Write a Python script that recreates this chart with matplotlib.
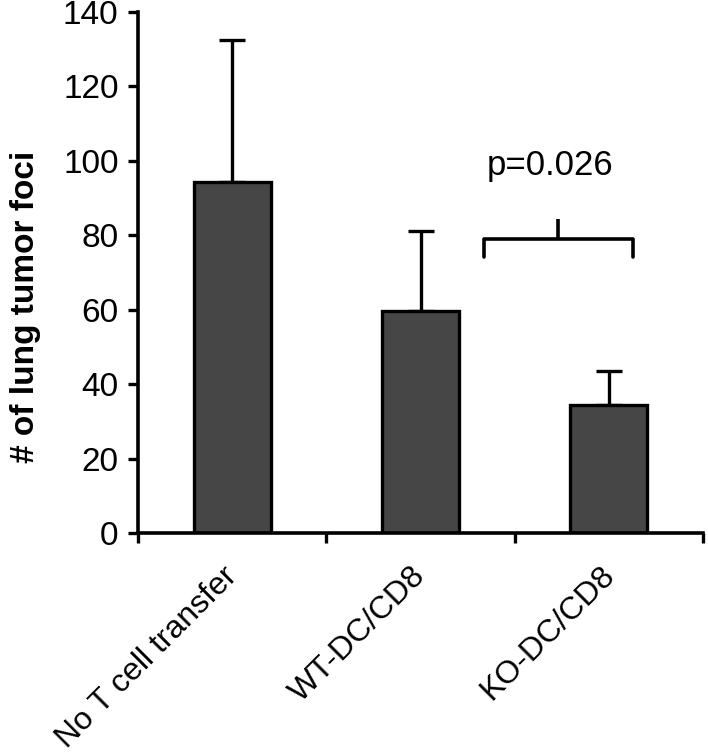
import matplotlib
matplotlib.use("Agg")
import matplotlib.pyplot as plt
import numpy as np

categories = ["No T cell transfer", "WT-DC/CD8", "KO-DC/CD8"]
means = [94.2, 59.5, 34.5]
upper_err = [38.3, 21.7, 9.1]
yticks = [0, 20, 40, 60, 80, 100, 120, 140]
p_text = "p=0.026"

plt.rcParams['font.family'] = ['Liberation Sans', 'DejaVu Sans']

fig = plt.figure(figsize=(7.08, 7.53), dpi=100)
ax = fig.add_axes([138/708, 220/753, (703-138)/708, (533-11.7)/753])

x = np.arange(len(categories))
ax.bar(x, means, width=0.41, color='#464646', edgecolor='black', linewidth=2.4, zorder=2)
ax.errorbar(x, means, yerr=[np.zeros(len(means)), upper_err], fmt='none',
            ecolor='black', elinewidth=2.4, capsize=9.5, capthick=2.4, zorder=1)

ax.set_xlim(-0.5, 2.5)
ax.set_ylim(0, 140)
ax.set_yticks(yticks)
ax.set_yticklabels([str(t) for t in yticks], fontsize=24)
ax.set_xticks([-0.5, 0.5, 1.5, 2.5])
ax.set_xticklabels([])
ax.tick_params(axis='both', direction='out', length=7, width=2.4, pad=7)

for s in ['top', 'right']:
    ax.spines[s].set_visible(False)
for s in ['left', 'bottom']:
    ax.spines[s].set_linewidth(2.6)

for xi, lab in zip(x, categories):
    ax.annotate(lab, xy=(xi, 0), xycoords=('data', 'axes fraction'),
                xytext=(-7, -20), textcoords='offset points',
                rotation=45, ha='right', va='top', rotation_mode='anchor',
                fontsize=23)

fig.text(26/708, 1 - 307/753, "# of lung tumor foci", rotation=90,
         ha='center', va='center', fontsize=24, fontweight='bold')

# significance bracket
xl, xr, xc = 1.337, 2.127, 1.73
yb, yl, yt = 79.0, 74.0, 84.3
ax.plot([xl, xl, xr, xr], [yl, yb, yb, yl], color='black', lw=2.6,
        solid_capstyle='round', solid_joinstyle='round', clip_on=False)
ax.plot([xc, xc], [yb, yt], color='black', lw=2.6, solid_capstyle='butt')
ax.text(1.69, 98.8, p_text, ha='center', va='center', fontsize=25)

fig.savefig("out.png", dpi=100)
